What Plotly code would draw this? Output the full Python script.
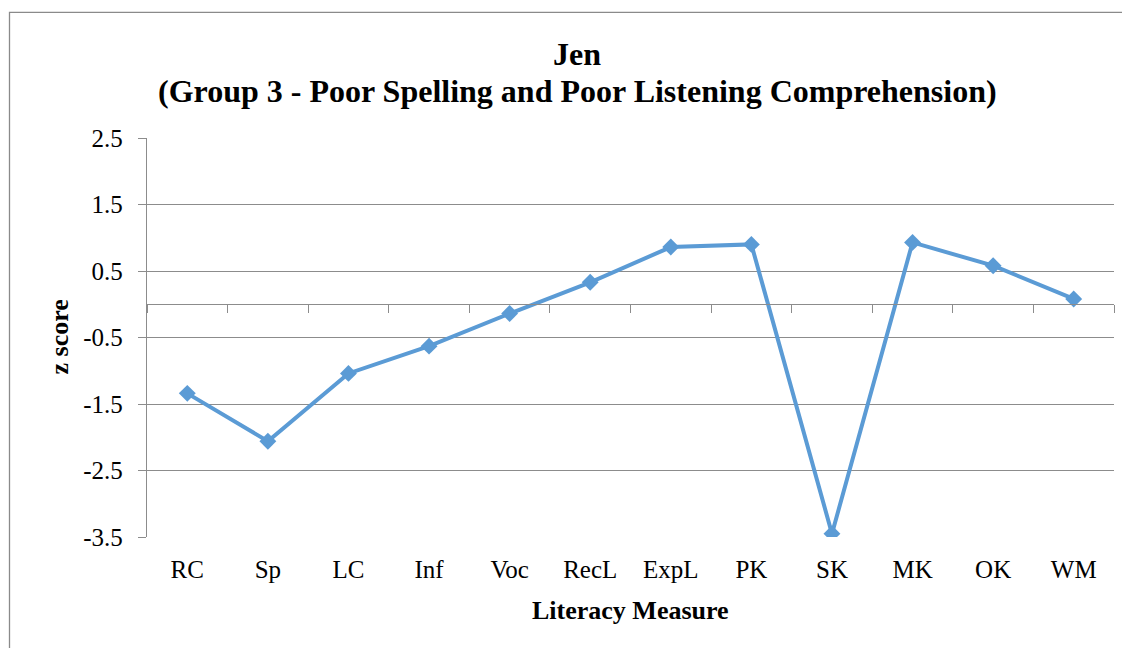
import plotly.graph_objects as go

categories = ["RC", "Sp", "LC", "Inf", "Voc", "RecL", "ExpL", "PK", "SK", "MK", "OK", "WM"]
z_scores = [-1.34, -2.06, -1.04, -0.63, -0.14, 0.33, 0.86, 0.90, -3.45, 0.93, 0.58, 0.08]
y_ticks = [2.5, 1.5, 0.5, -0.5, -1.5, -2.5, -3.5]

SERIF = "Liberation Serif, Times New Roman, serif"
GRID = "#8c8c8c"
LINE = "#5B9BD5"

# figure is drawn inside the page body, which keeps an 8px default margin
W, H = 1122, 640
ML, MR, MT, MB = 139, 16, 130, 111
PW, PH = W - ML - MR, H - MT - MB

fig = go.Figure()
fig.add_trace(go.Scatter(
    x=categories, y=z_scores, mode="lines+markers",
    line=dict(color=LINE, width=4),
    marker=dict(symbol="diamond", size=13, color=LINE),
    showlegend=False, xaxis="x", yaxis="y",
))
# invisible twin trace so the zero-crossing category axis is drawn
fig.add_trace(go.Scatter(
    x=categories, y=z_scores, mode="lines", opacity=0,
    hoverinfo="skip", showlegend=False, xaxis="x2", yaxis="y",
))

fig.update_layout(
    width=W, height=H,
    paper_bgcolor="white", plot_bgcolor="white",
    margin=dict(l=ML, r=MR, t=MT, b=MB),
    font=dict(family=SERIF, color="black"),
    title=dict(
        text="<b>Jen</b>",
        x=569 / W, xanchor="center", xref="container",
        y=1 - 46 / H, yanchor="middle", yref="container",
        font=dict(family=SERIF, size=32, color="black"),
    ),
    xaxis=dict(
        type="category", categoryorder="array", categoryarray=categories,
        range=[-0.5, len(categories) - 0.5],
        showline=False, showgrid=False, ticks="", zeroline=False,
        tickfont=dict(family=SERIF, size=25, color="black"),
        ticklabelstandoff=15,
    ),
    xaxis2=dict(
        type="category", categoryorder="array", categoryarray=categories,
        range=[-0.5, len(categories) - 0.5],
        overlaying="x", anchor="free", side="bottom",
        position=(0 - y_ticks[-1]) / (y_ticks[0] - y_ticks[-1]),
        showline=True, linecolor=GRID, linewidth=1.3,
        ticks="outside", tickson="boundaries", ticklen=8, tickcolor=GRID, tickwidth=1.3,
        showticklabels=False, showgrid=False, zeroline=False,
    ),
    yaxis=dict(
        range=[y_ticks[-1], y_ticks[0]],
        tickmode="array", tickvals=y_ticks, ticktext=[str(v) for v in y_ticks],
        showgrid=True, gridcolor=GRID, gridwidth=1.3,
        showline=True, linecolor=GRID, linewidth=1.3,
        ticks="outside", ticklen=8, tickcolor=GRID, tickwidth=1.3,
        zeroline=False,
        tickfont=dict(family=SERIF, size=25, color="black"),
        ticklabelstandoff=10,
    ),
    annotations=[
        dict(text="<b>(Group 3 - Poor Spelling and Poor Listening Comprehension)</b>",
             xref="paper", yref="paper", x=(569 - ML) / PW, y=1 + 47 / PH,
             xanchor="center", yanchor="middle", showarrow=False,
             font=dict(family=SERIF, size=32, color="black")),
        dict(text="<b>Literacy Measure</b>", xref="paper", yref="paper",
             x=0.5, y=-73 / PH, xanchor="center", yanchor="middle",
             showarrow=False, font=dict(family=SERIF, size=26, color="black")),
        dict(text="<b>z score</b>", xref="paper", yref="paper",
             x=-88 / PW, y=0.5, xanchor="center", yanchor="middle",
             textangle=-90, showarrow=False,
             font=dict(family=SERIF, size=26, color="black")),
    ],
    shapes=[
        dict(type="rect", xref="paper", yref="paper",
             x0=(1.5 - ML) / PW, x1=1.2, y0=-0.5, y1=(PH + MT - 4.3) / PH,
             line=dict(color="#8a8a8a", width=1.3), fillcolor="rgba(0,0,0,0)",
             layer="below"),
    ],
)

fig.write_html("out.html")
